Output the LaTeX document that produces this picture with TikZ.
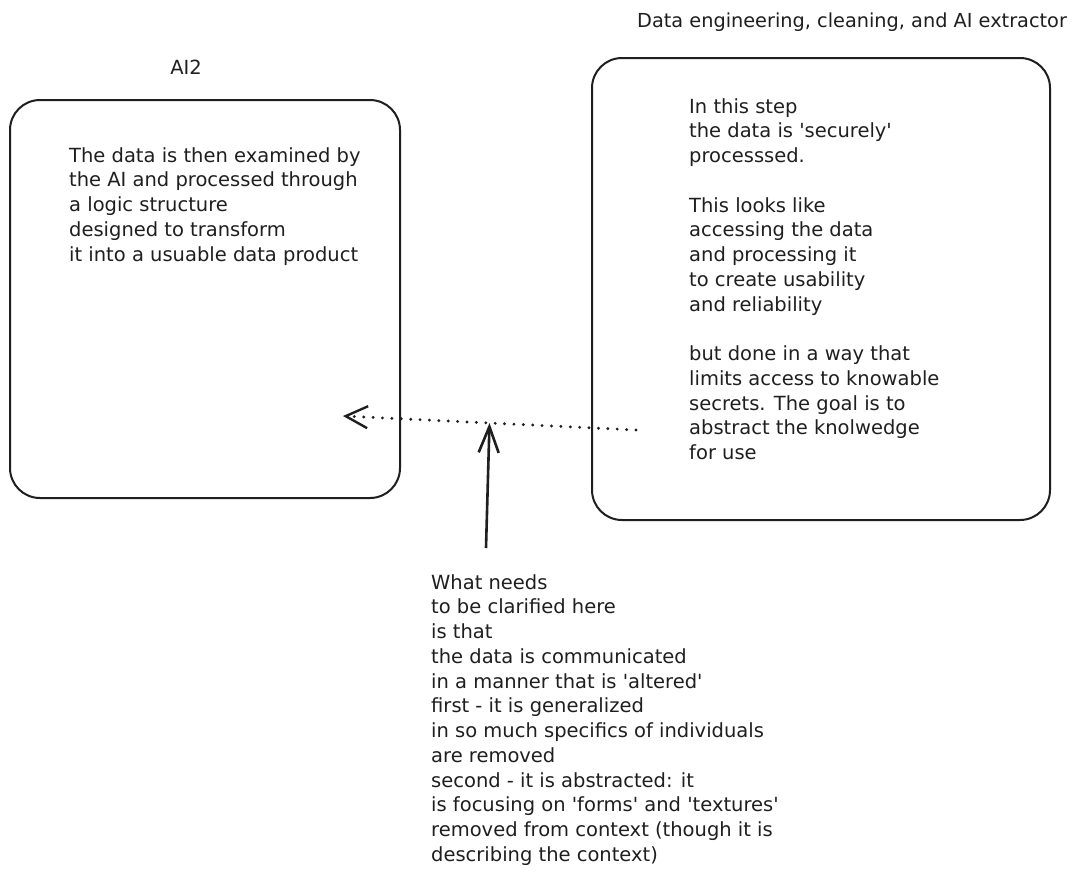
\documentclass[tikz,border=0pt]{standalone}
\usepackage{fontspec}
\setmainfont{DejaVu Sans}[Ligatures=TeXOff]
\usetikzlibrary{arrows.meta,calc}
\begin{document}
\begin{tikzpicture}[x=1pt,y=-1pt,
  box/.style={draw=black!88,line width=2pt,rounded corners=30pt,rectangle,inner sep=0pt},
  txt/.style={font=\fontsize{19.5}{24.75}\selectfont,align=left,inner sep=0pt,text=black!88},
  dotarrow/.style={draw=black!88,line width=3.2pt,line cap=round,dash pattern=on 0pt off 9.4pt,-{Straight Barb[length=22pt,width=22pt,line width=2.4pt]}},
  solidarrow/.style={draw=black!88,line width=2.6pt,-{Straight Barb[length=26pt,width=20pt,line width=2.6pt]}}]
\useasboundingbox[fill=white] (0,0) rectangle (1078,884);

\node[box,minimum width=390pt,minimum height=398pt] (left) at (205,299) {};
\node[box,minimum width=458pt,minimum height=462pt] (right) at (821,289) {};

\node[txt,anchor=base] (ai2) at (186,74) {AI2};
\node[txt,anchor=base west,font=\fontsize{19.3}{24.75}\selectfont] (title) at (637,27) {Data engineering, cleaning, and AI extractor};

\node[txt,anchor=north west] (ltext) at (69,147) {The data is then examined by\\
the AI and processed through\\
a logic structure\\
designed to transform\\
it into a usuable data product};

\node[txt,anchor=north west] (rtext) at (689,98) {In this step\\
the data is 'securely'\\
processsed.\\[24.75pt]
This looks like\\
accessing the data\\
and processing it\\
to create usability\\
and reliability\\[24.75pt]
but done in a way that\\
limits access to knowable\\
secrets. The goal is to\\
abstract the knolwedge\\
for use};

\node[txt,anchor=north west] (btext) at (431,574) {What needs\\
to be clarified here\\
is that\\
the data is communicated\\
in a manner that is 'altered'\\
first - it is generalized\\
in so much specifics of individuals\\
are removed\\
second - it is abstracted: it\\
is focusing on 'forms' and 'textures'\\
removed from context (though it is\\
describing the context)};

\coordinate (ds) at (636,430);
\coordinate (de) at (343,416);
\coordinate (mid) at ($(ds)!0.5!(de)$);
\coordinate (as) at (486,548);

\draw[dotarrow] (ds) -- (de);
\draw[solidarrow] (as) -- (mid);
\end{tikzpicture}
\end{document}
